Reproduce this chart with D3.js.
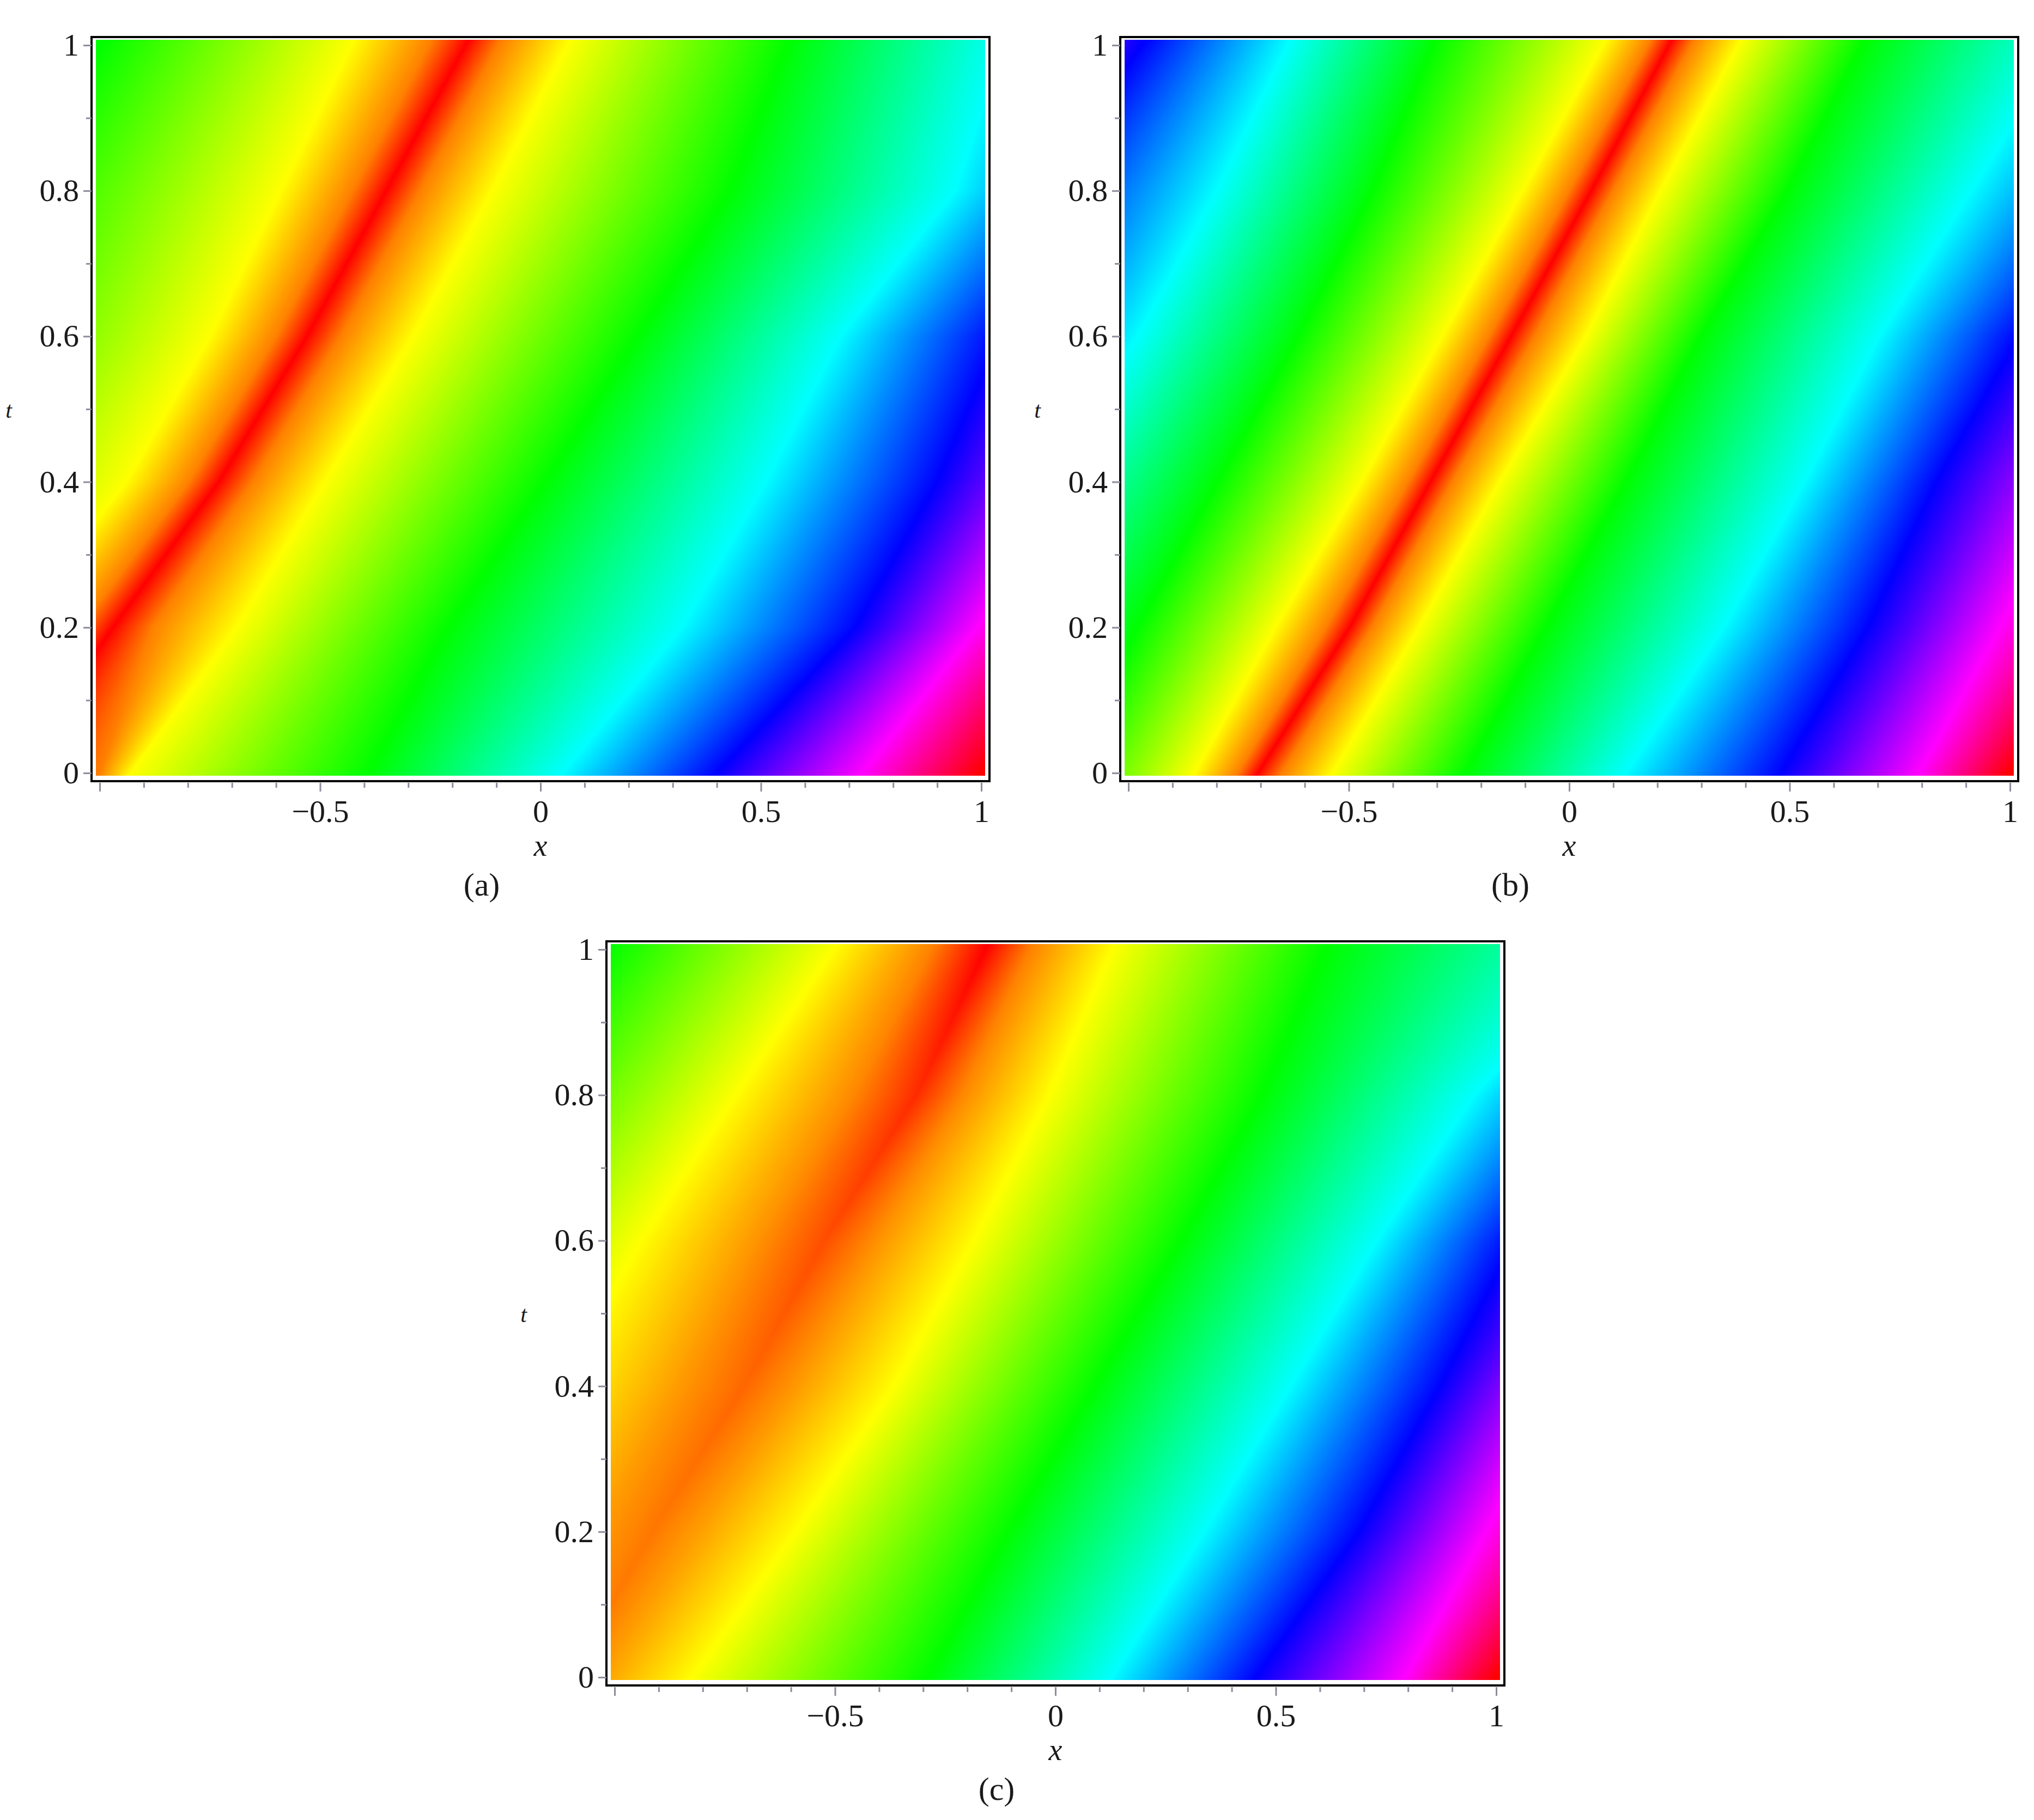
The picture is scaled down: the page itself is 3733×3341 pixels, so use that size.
<!DOCTYPE html>
<html>
<head>
<meta charset="utf-8">
<title>Density plots (a) (b) (c)</title>
<script src="https://cdn.jsdelivr.net/npm/d3@7"></script>
<style>
    body { margin: 0; background: #fff; }
    text { font-family: "Liberation Serif", "Times New Roman", serif; fill: #1a1a1a; }
    .tick text { font-size: 58px; }
    .tick line { stroke: #8c8c9c; stroke-width: 3; }
    .domain { display: none; }
    .axis-title { font-style: italic; }
    .caption { font-size: 60px; }
</style>
</head>
<body>
<script>
var tRows = [1, 0.8, 0.6, 0.4, 0.2, 0];

// (a) hue of each band and its x position on every t row
var hueA = [120, 60, 30, 0, 30, 60, 120, 180, 240, 300, 360];
var bandsA = [
    [-1.00, -0.43, -0.253, -0.17, -0.096,  0.06,  0.56, 1.05, 1.50, 1.90, 2.30],
    [-1.20, -0.59, -0.427, -0.35, -0.273, -0.11,  0.43, 0.94, 1.30, 1.65, 2.00],
    [-1.35, -0.75, -0.600, -0.53, -0.453, -0.29,  0.22, 0.68, 1.04, 1.40, 1.75],
    [-1.55, -0.94, -0.797, -0.73, -0.653, -0.49,  0.01, 0.51, 0.90, 1.20, 1.50],
    [-1.75, -1.20, -1.044, -0.97, -0.880, -0.69, -0.21, 0.32, 0.715, 0.99, 1.25],
    [-1.95, -1.45, -1.280, -1.20, -1.000, -0.93, -0.39, 0.05, 0.40, 0.73, 1.00]
];

// (b)
var hueB = [240, 180, 120, 60, 30, 0, 30, 60, 120, 180, 240, 300, 360];
var bandsB = [
    [-0.97, -0.64, -0.31,  0.076,  0.178,  0.226,  0.276,  0.383,  0.663, 1.12, 1.50, 1.85, 2.20],
    [-1.20, -0.80, -0.446, -0.106,  0.000,  0.050,  0.100,  0.207,  0.494, 0.911, 1.30, 1.65, 2.00],
    [-1.35, -0.98, -0.615, -0.289, -0.182, -0.132, -0.078,  0.037,  0.298, 0.703, 1.02, 1.35, 1.65],
    [-1.55, -1.18, -0.798, -0.472, -0.365, -0.315, -0.265, -0.158,  0.128, 0.533, 0.833, 1.15, 1.45],
    [-1.72, -1.35, -0.98, -0.667, -0.552, -0.498, -0.448, -0.341, -0.054, 0.350, 0.677, 0.977, 1.25],
    [-1.90, -1.52, -1.15, -0.85,  -0.752, -0.706, -0.652, -0.537, -0.237, 0.128, 0.481, 0.794, 1.00]
];

// (c) the crest is red at t = 1 and turns into a broad orange band towards t = 0
var ridgeHueC = [0, 10, 18, 24, 28, 30];
var shoulderHueC = [30, 32, 34, 36, 38, 40];
var bandsC = [
    [-1.02, -0.504, -0.280, -0.159, -0.059,  0.128,  0.611, 1.25, 1.60, 1.95, 2.30],
    [-1.25, -0.726, -0.459, -0.315, -0.210, -0.015,  0.468, 0.950, 1.30, 1.65, 2.00],
    [-1.50, -0.941, -0.670, -0.524, -0.405, -0.185,  0.285, 0.729, 1.04, 1.40, 1.75],
    [-1.70, -1.12,  -0.851, -0.706, -0.587, -0.367,  0.089, 0.533, 0.872, 1.15, 1.45],
    [-1.90, -1.32,  -1.057, -0.915, -0.801, -0.589, -0.106, 0.337, 0.689, 0.977, 1.25],
    [-2.10, -1.50,  -1.240, -1.100, -1.003, -0.824, -0.289, 0.128, 0.455, 0.794, 1.00]
];

var xMajor = [-1, -0.5, 0, 0.5, 1];
var xLabels = ["", "\u22120.5", "0", "0.5", "1"];
var xMinor = [-0.9, -0.8, -0.7, -0.6, -0.4, -0.3, -0.2, -0.1, 0.1, 0.2, 0.3, 0.4, 0.6, 0.7, 0.8, 0.9];
var tMajor = [0, 0.2, 0.4, 0.6, 0.8, 1];
var tLabels = ["0", "0.2", "0.4", "0.6", "0.8", "1"];
var tMinor = [0.1, 0.3, 0.5, 0.7, 0.9];
var captions = ["(a)", "(b)", "(c)"];

var _width = 3733, _height = 3341;
var W = 1648, H = 1366;

var svg = d3.select("body").append("svg")
        .attr("width", _width)
        .attr("height", _height)
        .style("display", "block");

// hue -> colour lookup, quarter degree steps
var lut = d3.range(0, 1441).map(function (i) {
    return d3.hsl((i / 4) % 360, 1, 0.5).rgb();
});

function densityPlot(opt) {
    var fl = opt.left, ft = opt.top, fr = fl + W, fb = ft + H;

    var x = d3.scaleLinear().domain([-1, 1]).range([fl + 15, fr - 15]);
    var y = d3.scaleLinear().domain([0, 1]).range([fb - 15, ft + 15]);

    var g = svg.append("g").attr("class", "panel");

    // colour field
    var ix0 = fl + 8, ix1 = fr - 8, iy0 = ft + 5, iy1 = fb - 10;
    var w = ix1 - ix0, h = iy1 - iy0;

    var nStops = opt.bands[0].length;
    var posAtT = d3.range(nStops).map(function (k) {
        return d3.scaleLinear().domain(tRows).range(opt.bands.map(function (r) { return r[k]; }));
    });
    var hueAtT = d3.range(nStops).map(function (k) {
        return d3.scaleLinear().domain(tRows).range(opt.hues.map(function (r) { return r[k]; }));
    });

    var canvas = document.createElement("canvas");
    canvas.width = w;
    canvas.height = h;
    var ctx = canvas.getContext("2d");
    var img = ctx.createImageData(w, h);
    var xs = d3.range(w).map(function (i) { return x.invert(ix0 + i + 0.5); });

    for (var j = 0; j < h; j++) {
        var t = y.invert(iy0 + j + 0.5);
        var row = d3.scaleLinear()
                .domain(posAtT.map(function (s) { return s(t); }))
                .range(hueAtT.map(function (s) { return s(t); }));
        for (var i = 0; i < w; i++) {
            var hue = Math.max(0, Math.min(360, row(xs[i])));
            var c = lut[Math.round(hue * 4)];
            var p = (j * w + i) * 4;
            img.data[p] = c.r;
            img.data[p + 1] = c.g;
            img.data[p + 2] = c.b;
            img.data[p + 3] = 255;
        }
    }
    ctx.putImageData(img, 0, 0);

    g.append("image")
            .attr("x", ix0)
            .attr("y", iy0)
            .attr("width", w)
            .attr("height", h)
            .attr("preserveAspectRatio", "none")
            .attr("href", canvas.toDataURL());

    // boxed frame
    g.append("rect")
            .attr("x", fl)
            .attr("y", ft)
            .attr("width", W)
            .attr("height", H)
            .attr("fill", "none")
            .attr("stroke", "#000")
            .attr("stroke-width", 4);

    // axes
    g.append("g")
            .attr("transform", "translate(" + fl + ",0)")
            .call(d3.axisLeft(y).tickValues(tMinor).tickSize(10).tickFormat(""));
    g.append("g")
            .attr("transform", "translate(" + fl + ",0)")
            .call(d3.axisLeft(y).tickValues(tMajor).tickSize(15).tickPadding(8)
                    .tickFormat(function (d, i) { return tLabels[i]; }));

    g.append("g")
            .attr("transform", "translate(0," + (fb + 3) + ")")
            .call(d3.axisBottom(x).tickValues(xMinor).tickSize(9).tickFormat(""));
    g.append("g")
            .attr("transform", "translate(0," + (fb + 3) + ")")
            .call(d3.axisBottom(x).tickValues(xMajor).tickSize(16).tickPadding(15)
                    .tickFormat(function (d, i) { return xLabels[i]; }));

    // titles
    g.append("text")
            .attr("class", "axis-title")
            .attr("x", x(0))
            .attr("y", fb + 137)
            .attr("text-anchor", "middle")
            .style("font-size", "56px")
            .text("x");

    g.append("text")
            .attr("class", "axis-title")
            .attr("x", fl - 152)
            .attr("y", (ft + fb) / 2 + 16)
            .attr("text-anchor", "middle")
            .style("font-size", "42px")
            .text("t");

    g.append("text")
            .attr("class", "caption")
            .attr("x", x(0) - 108)
            .attr("y", fb + 210)
            .attr("text-anchor", "middle")
            .text(opt.caption);
}

function sameHues(h) {
    return tRows.map(function () { return h; });
}

densityPlot({left: 168, top: 68, bands: bandsA, hues: sameHues(hueA), caption: captions[0]});
densityPlot({left: 2056, top: 68, bands: bandsB, hues: sameHues(hueB), caption: captions[1]});
densityPlot({left: 1113, top: 1728, bands: bandsC,
    hues: ridgeHueC.map(function (r, i) {
        var s = shoulderHueC[i];
        return [120, 60, s, r, s, 60, 120, 180, 240, 300, 360];
    }),
    caption: captions[2]});
</script>
</body>
</html>
